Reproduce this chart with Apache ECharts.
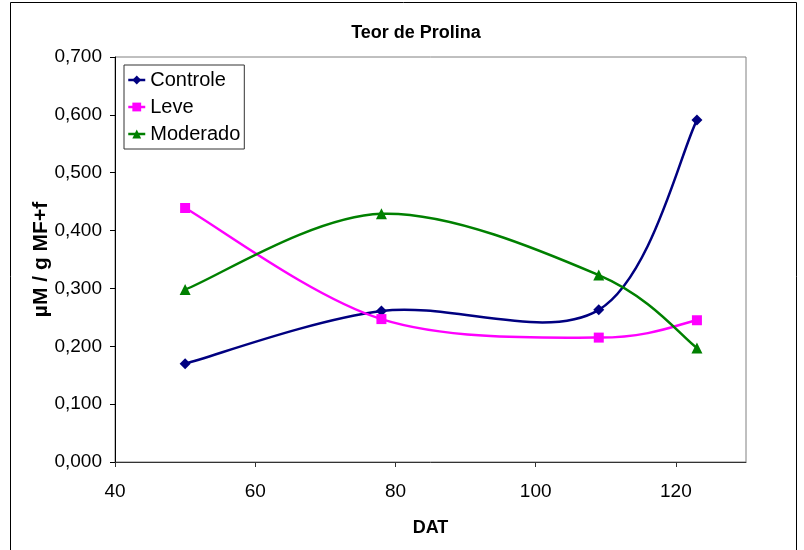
<!DOCTYPE html>
<html>
<head>
<meta charset="utf-8">
<script src="https://cdn.jsdelivr.net/npm/echarts@6/dist/echarts.min.js"></script>
<style>html,body{margin:0;padding:0;background:#fff}#c{width:804px;height:550px}</style>
</head>
<body>
<div id="c"></div>
<script>
const xDays = [50, 78, 109, 123];
const controle = [0.170, 0.261, 0.263, 0.591];
const leve = [0.439, 0.247, 0.215, 0.245];
const moderado = [0.298, 0.429, 0.323, 0.197];
const seriesNames = ['Controle', 'Leve', 'Moderado'];

const pair = arr => xDays.map((x, i) => [x, arr[i]]);
const fmt = v => v.toFixed(3).replace('.', ',');
const font = 'Liberation Sans, Arial, sans-serif';

const defs = [
  { name: seriesNames[0], vals: controle, color: '#000080', symbol: 'diamond', size: 11 },
  { name: seriesNames[1], vals: leve, color: '#FF00FF', symbol: 'rect', size: 10 },
  { name: seriesNames[2], vals: moderado, color: '#008000', symbol: 'triangle', size: 11 }
];

// Excel-like smoothed segment between point i and i+1 (Bezier with 1/6 tangents), in pixel space via the axes
function curveRenderer(vals, color) {
  return function (params, api) {
    const i = params.dataIndex;
    const n = xDays.length;
    if (i >= n - 1) return null;
    const P = k => api.coord([xDays[Math.max(0, Math.min(n - 1, k))], vals[Math.max(0, Math.min(n - 1, k))]]);
    const p0 = P(i - 1), p1 = P(i), p2 = P(i + 1), p3 = P(i + 2);
    const t = 1 / 6;
    return {
      type: 'bezierCurve',
      shape: {
        x1: p1[0], y1: p1[1], x2: p2[0], y2: p2[1],
        cpx1: p1[0] + (p2[0] - p0[0]) * t, cpy1: p1[1] + (p2[1] - p0[1]) * t,
        cpx2: p2[0] - (p3[0] - p1[0]) * t, cpy2: p2[1] - (p3[1] - p1[1]) * t
      },
      style: { stroke: color, lineWidth: 2.5, fill: null },
      silent: true
    };
  };
}

const series = [];
defs.forEach(d => {
  series.push({
    name: d.name + ' curva', type: 'custom', data: pair(d.vals), z: 2,
    encode: { x: 0, y: 1 }, renderItem: curveRenderer(d.vals, d.color)
  });
});
defs.forEach(d => {
  series.push({
    name: d.name, type: 'line', data: pair(d.vals), z: 3, symbol: d.symbol, symbolSize: d.size,
    itemStyle: { color: d.color }, lineStyle: { color: d.color, width: 2.5, opacity: 0 }
  });
});

const chart = echarts.init(document.getElementById('c'));
chart.setOption({
  animation: false,
  backgroundColor: '#fff',
  title: {
    text: 'Teor de Prolina', left: 411, top: 19, textAlign: 'center',
    textStyle: { fontFamily: font, fontSize: 18, fontWeight: 'bold', color: '#000' }
  },
  graphic: [{
    type: 'rect', shape: { x: 10.5, y: 2.5, width: 786, height: 600 },
    style: { fill: 'none', stroke: '#000', lineWidth: 1 }, silent: true
  }],
  grid: { left: 115, top: 57, width: 631, height: 405, show: true, borderColor: '#808080', borderWidth: 1, containLabel: false },
  legend: {
    orient: 'vertical', left: 124, top: 65, padding: [5, 4, 5, 3], itemGap: 7,
    itemWidth: 17, itemHeight: 11,
    borderColor: '#333', borderWidth: 1,
    textStyle: { fontFamily: font, fontSize: 20, color: '#000' },
    data: defs.map(d => ({ name: d.name, lineStyle: { color: d.color, width: 2.5, opacity: 1 } }))
  },
  xAxis: {
    type: 'value', min: 40, max: 130, interval: 20,
    name: 'DAT', nameLocation: 'middle', nameGap: 57,
    nameTextStyle: { fontFamily: font, fontSize: 18, fontWeight: 'bold', color: '#000' },
    axisLine: { show: true, lineStyle: { color: '#333', width: 1 } },
    axisTick: { show: true, inside: false, length: 5, lineStyle: { color: '#333' } },
    axisLabel: { fontFamily: font, fontSize: 19, color: '#000', margin: 20, showMaxLabel: false },
    splitLine: { show: false }
  },
  yAxis: {
    type: 'value', min: 0, max: 0.7, interval: 0.1,
    name: 'µM / g MF+f', nameLocation: 'middle', nameGap: 63, nameRotate: 90, nameMoveOverlap: false,
    nameTextStyle: { fontFamily: font, fontSize: 21, fontWeight: 'bold', color: '#000' },
    axisLine: { show: true, lineStyle: { color: '#000', width: 1 } },
    axisTick: { show: true, inside: false, length: 5, lineStyle: { color: '#000' } },
    axisLabel: { fontFamily: font, fontSize: 19, color: '#000', margin: 13, formatter: fmt },
    splitLine: { show: false }
  },
  series: series
});
</script>
</body>
</html>
